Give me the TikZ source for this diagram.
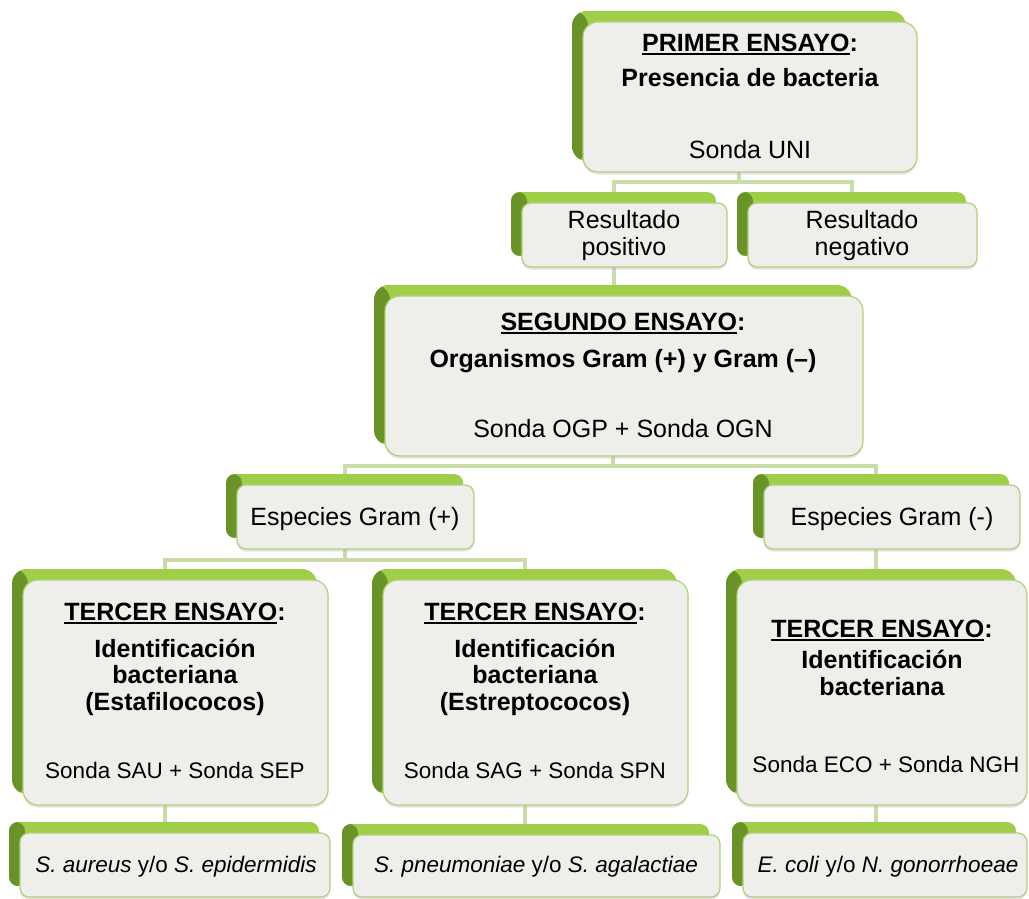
\documentclass[tikz,border=0pt]{standalone}
\usepackage{fontspec}
\setmainfont{Liberation Sans}
\usetikzlibrary{shadows}
\pgfdeclarelayer{background}
\pgfsetlayers{background,main}
\definecolor{gdark}{RGB}{104,146,40}
\definecolor{glight}{RGB}{160,206,72}
\definecolor{fbfill}{RGB}{238,239,234}
\definecolor{fbdraw}{RGB}{176,208,128}
\definecolor{conncol}{RGB}{200,221,168}
\newcommand\uln[1]{\setbox0=\hbox{#1}\rlap{\rule[-3.5pt]{\wd0}{2pt}}\box0}
\newcommand\card[6][]{%
  \node[backbox,#1,minimum width={(#5-#3)*1pt},minimum height={(#6-#4)*1pt}]
    (#2-bk) at ({(#3+#5)/2-11},{(#4+#6)/2-11}) {};
  \node[frontbox,#1,minimum width={(#5-#3)*1pt},minimum height={(#6-#4)*1pt}]
    (#2) at ({(#3+#5)/2},{(#4+#6)/2}) {};}
\tikzset{
  backbox/.style={rectangle, inner sep=0pt, rounded corners=9pt, fill=glight,
    path picture={\shade[left color=gdark, right color=glight]
      (path picture bounding box.north west) rectangle ([xshift=16pt]path picture bounding box.south west);}},
  frontbox/.style={rectangle, inner sep=0pt, rounded corners=9pt, fill=fbfill, draw=fbdraw, line width=1.2pt,
    drop shadow={shadow xshift=0pt, shadow yshift=-2.5pt, fill=black!30, opacity=0.35}},
  bigbox/.style={rounded corners=15pt},
  conn/.style={draw=conncol, line width=4pt},
  txt/.style={anchor=base, inner sep=0pt, font=\fontsize{25}{30}\selectfont},
  smalltxt/.style={anchor=base, inner sep=0pt, font=\fontsize{22.5}{27}\selectfont},
  bt/.style={txt, font=\fontsize{25}{30}\selectfont\bfseries},
}
\begin{document}
\begin{tikzpicture}[x=1pt,y=-1pt]
\useasboundingbox (0,0) rectangle (1029,899);
% boxes
\card[bigbox]{top}{583}{22}{917}{172}
\card{respos}{522}{203}{727}{267}
\card{resneg}{748}{203}{977}{267}
\card[bigbox]{seg}{385}{296}{863}{456}
\card{espp}{237}{485}{474}{549}
\card{espn}{764}{485}{1020}{549}
\card[bigbox]{t1}{23}{580}{328}{805}
\card[bigbox]{t2}{383}{580}{688}{805}
\card[bigbox]{t3}{737}{580}{1027}{805}
\card{b1}{20}{833}{330}{897}
\card{b2}{353}{835}{720}{897}
\card{b3}{743}{833}{1027}{897}
% connectors
\coordinate (h1) at (0,182);
\coordinate (h2) at (0,466);
\coordinate (h3) at (0,560);
\coordinate (rx) at (876,0);
\begin{pgfonlayer}{background}
\fill[white] (0,0) rectangle (1029,899);
\draw[conn] (top-bk.south) -- (top-bk.south |- h1) -| (respos-bk.north);
\draw[conn] (top-bk.south |- h1) -| (resneg-bk.north);
\draw[conn] (respos-bk.south) -- (respos-bk.south |- seg-bk.north);
\draw[conn] (seg-bk.south) -- (seg-bk.south |- h2) -| (espp-bk.north);
\draw[conn] (seg-bk.south |- h2) -| (espn-bk.north -| rx);
\draw[conn] (espp-bk.south) -- (espp-bk.south |- h3) -| (t1-bk.north);
\draw[conn] (espp-bk.south |- h3) -| (t2-bk.north);
\draw[conn] (espn-bk.south -| rx) -- (t3-bk.north -| rx);
\draw[conn] (t1-bk.south) -- (t1-bk.south |- b1-bk.north);
\draw[conn] (t2-bk.south) -- (t2-bk.south |- b2-bk.north);
\draw[conn] (t3-bk.south -| rx) -- (b3-bk.north -| rx);
\end{pgfonlayer}
% texts
\node[bt] (top-a) at (750,52) {\uln{PRIMER ENSAYO}:};
\node[bt] (top-b) at (750,87) {Presencia de bacteria};
\node[txt] (top-c) at (750,158) {Sonda UNI};
\node[txt] (respos-a) at (624,228) {Resultado};
\node[txt] (respos-b) at (624,255) {positivo};
\node[txt] (resneg-a) at (862,228) {Resultado};
\node[txt] (resneg-b) at (862,255) {negativo};
\node[bt] (seg-a) at (623,330) {\uln{SEGUNDO ENSAYO}:};
\node[bt] (seg-b) at (623,367) {Organismos Gram (+) y Gram (–)};
\node[txt] (seg-c) at (623,437) {Sonda OGP + Sonda OGN};
\node[txt] (espp-a) at (355,525) {Especies Gram (+)};
\node[txt] (espn-a) at (892,525) {Especies Gram (-)};
\node[bt] (t1-a) at (175,620) {\uln{TERCER ENSAYO}:};
\node[bt] (t1-b) at (175,657) {Identificación};
\node[bt] (t1-c) at (175,683) {bacteriana};
\node[bt] (t1-d) at (175,710) {(Estafilococos)};
\node[smalltxt] (t1-e) at (175,778) {Sonda SAU + Sonda SEP};
\node[bt] (t2-a) at (535,620) {\uln{TERCER ENSAYO}:};
\node[bt] (t2-b) at (535,657) {Identificación};
\node[bt] (t2-c) at (535,683) {bacteriana};
\node[bt] (t2-d) at (535,710) {(Estreptococos)};
\node[smalltxt] (t2-e) at (535,778) {Sonda SAG + Sonda SPN};
\node[bt] (t3-a) at (882,637) {\uln{TERCER ENSAYO}:};
\node[bt] (t3-b) at (882,668) {Identificación};
\node[bt] (t3-c) at (882,695) {bacteriana};
\node[smalltxt] (t3-e) at (886,772) {Sonda ECO + Sonda NGH};
\node[smalltxt] (b1-a) at (176,872) {\textit{S. aureus} y/o \textit{S. epidermidis}};
\node[smalltxt] (b2-a) at (536,872) {\textit{S. pneumoniae} y/o \textit{S. agalactiae}};
\node[smalltxt] (b3-a) at (888,872) {\textit{E. coli} y/o \textit{N. gonorrhoeae}};
\end{tikzpicture}
\end{document}
